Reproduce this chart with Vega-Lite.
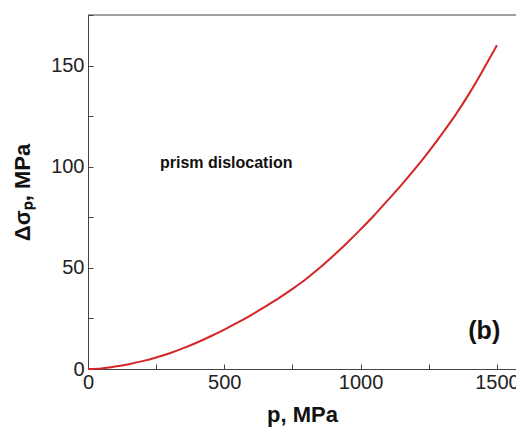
{
  "$schema": "https://vega.github.io/schema/vega-lite/v6.json",
  "width": 428,
  "height": 354,
  "autosize": {"type": "none"},
  "padding": {"left": 88, "top": 15, "right": 0, "bottom": 63},
  "background": "white",
  "config": {
    "view": {"stroke": null},
    "font": "Liberation Sans",
    "axis": {"grid": false, "domainColor": "#444", "tickColor": "#444", "labelColor": "#222", "titleColor": "#111", "labelFont": "Liberation Sans", "titleFont": "Liberation Sans"}
  },
  "datasets": {
    "curve": [
      {"p": 0, "d": 0}, {"p": 50, "d": 0.3}, {"p": 100, "d": 1.2}, {"p": 150, "d": 2.4},
      {"p": 200, "d": 3.9}, {"p": 250, "d": 5.7}, {"p": 300, "d": 7.8}, {"p": 350, "d": 10.3},
      {"p": 400, "d": 13.1}, {"p": 450, "d": 16.2}, {"p": 500, "d": 19.5}, {"p": 550, "d": 23},
      {"p": 600, "d": 26.8}, {"p": 650, "d": 30.8}, {"p": 700, "d": 35}, {"p": 750, "d": 39.6},
      {"p": 800, "d": 44.5}, {"p": 850, "d": 50}, {"p": 900, "d": 56}, {"p": 950, "d": 62.3},
      {"p": 1000, "d": 69}, {"p": 1050, "d": 76}, {"p": 1100, "d": 83.5}, {"p": 1150, "d": 91},
      {"p": 1200, "d": 99}, {"p": 1250, "d": 107.5}, {"p": 1300, "d": 116.5}, {"p": 1350, "d": 126},
      {"p": 1400, "d": 136.5}, {"p": 1450, "d": 148}, {"p": 1500, "d": 160}
    ],
    "notes": [
      {"p": 264, "d": 102, "label": "prism dislocation", "kind": "a"},
      {"p": 1395, "d": 19, "label": "(b)", "kind": "b"}
    ]
  },
  "layer": [
    {
      "data": {"name": "curve"},
      "mark": {"type": "line", "color": "#d42626", "strokeWidth": 2, "interpolate": "monotone"},
      "encoding": {
        "x": {"field": "p", "type": "quantitative",
          "scale": {"domain": [0, 1570], "nice": false, "zero": false},
          "axis": {"values": [0, 250, 500, 750, 1000, 1250, 1500],
            "labelExpr": "datum.value % 500 == 0 ? datum.label : ''",
            "format": "d",
            "tickSize": -5, "labelPadding": 8, "labelFontSize": 20, "labelFlush": false,
            "title": "p, MPa", "titleFontSize": 22, "titleFontWeight": "bold", "titlePadding": 12}},
        "y": {"field": "d", "type": "quantitative",
          "scale": {"domain": [0, 175], "nice": false},
          "axis": {"values": [0, 25, 50, 75, 100, 125, 150, 175],
            "labelExpr": "datum.value % 50 == 0 && datum.value < 175 ? datum.label : ''",
            "tickSize": -5, "labelPadding": 9, "labelFontSize": 20,
            "title": "Δσₚ, MPa", "titleFontSize": 22, "titleFontWeight": "bold", "titlePadding": 16}}
      }
    },
    {
      "data": {"values": [{"d": 175}]},
      "mark": {"type": "rule", "color": "#444", "strokeWidth": 1},
      "encoding": {"y": {"field": "d", "type": "quantitative"}}
    },
    {
      "data": {"name": "notes"},
      "transform": [{"filter": "datum.kind == 'a'"}],
      "mark": {"type": "text", "align": "left", "baseline": "middle", "fontSize": 16, "fontWeight": "bold", "color": "#111"},
      "encoding": {"x": {"field": "p", "type": "quantitative"}, "y": {"field": "d", "type": "quantitative"}, "text": {"field": "label"}}
    },
    {
      "data": {"name": "notes"},
      "transform": [{"filter": "datum.kind == 'b'"}],
      "mark": {"type": "text", "align": "left", "baseline": "middle", "fontSize": 25, "fontWeight": "bold", "color": "#111"},
      "encoding": {"x": {"field": "p", "type": "quantitative"}, "y": {"field": "d", "type": "quantitative"}, "text": {"field": "label"}}
    }
  ]
}
